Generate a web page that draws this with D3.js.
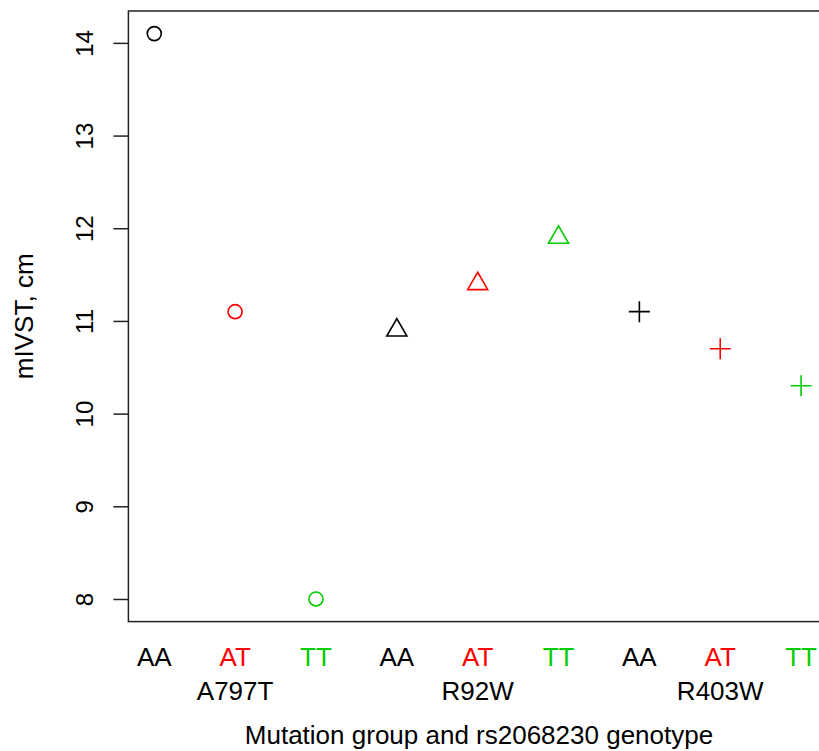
<!DOCTYPE html>
<html>
<head>
<meta charset="utf-8">
<script src="https://cdn.jsdelivr.net/npm/d3@7"></script>
<style>
  body { margin: 0; background: #fff; }
  text { font-family: "Liberation Sans", Arial, sans-serif; }
</style>
</head>
<body>
<svg id="chart" width="819" height="751"></svg>
<script>
"use strict";

// data
const groups = ["A797T", "R92W", "R403W"];
const genotypes = ["AA", "AT", "TT"];
const a797tValues = [14.1, 11.1, 8.0];
const r92wValues = [10.9, 11.4, 11.9];
const r403wValues = [11.1, 10.7, 10.3];
const yTicks = [8, 9, 10, 11, 12, 13, 14];

const genoColors = ["#000000", "#FF0000", "#00CD00"];
const groupShapes = ["circle", "triangle", "plus"];

const points = [];
[a797tValues, r92wValues, r403wValues].forEach((vals, g) => {
  vals.forEach((v, k) => {
    points.push({idx: g * 3 + k + 1, value: v, group: g, geno: k});
  });
});

// plot box (right edge falls outside the window)
let box = {left: 128.4, top: 11, bottom: 621.6};

let xScale = d3.scaleLinear()
  .domain([0.68, 9.32])
  .range([box.left, box.left + 8.64 * 80.85]);

let yScale = d3.scaleLinear()
  .domain([7.756, 14.344])
  .range([box.bottom, box.top]);

const svg = d3.select("#chart");

// plus symbol (R pch 3)
const plusType = {
  draw(ctx, size) {
    const r = Math.sqrt(size) / 2;
    ctx.moveTo(-r, 0); ctx.lineTo(r, 0);
    ctx.moveTo(0, -r); ctx.lineTo(0, r);
  }
};
function symbolFor(shape) {
  if (shape === "circle") return d3.symbol(d3.symbolCircle, 154);
  if (shape === "triangle") return d3.symbol(d3.symbolTriangle, 175);
  return d3.symbol(plusType, 441);
}

// box
svg.append("rect")
  .attr("x", box.left)
  .attr("y", box.top)
  .attr("width", xScale.range()[1] - box.left)
  .attr("height", box.bottom - box.top)
  .attr("fill", "none")
  .attr("stroke", "#222")
  .attr("stroke-width", 1.5);

// y axis, labels turned like R's las=0
const yAxis = svg.append("g")
  .attr("transform", `translate(${box.left},0)`)
  .call(d3.axisLeft(yScale).tickValues(yTicks).tickSize(15).tickFormat(d3.format("d")));
yAxis.select(".domain").remove();
yAxis.selectAll("line").attr("stroke", "#222").attr("stroke-width", 1.5);
yAxis.selectAll(".tick text")
  .attr("font-size", 24)
  .attr("fill", "#000")
  .attr("font-family", "Liberation Sans, Arial, sans-serif")
  .attr("x", null)
  .attr("dy", null)
  .attr("text-anchor", "middle")
  .attr("transform", "translate(-35,0) rotate(-90)");

// x genotype labels
svg.append("g").selectAll("text")
  .data(points)
  .join("text")
    .attr("x", d => xScale(d.idx))
    .attr("y", 665.5)
    .attr("text-anchor", "middle")
    .attr("font-size", 26)
    .attr("fill", d => genoColors[d.geno])
    .text(d => genotypes[d.geno]);

// group labels
svg.append("g").selectAll("text")
  .data(groups)
  .join("text")
    .attr("x", (d, i) => xScale(i * 3 + 2))
    .attr("y", 700)
    .attr("text-anchor", "middle")
    .attr("font-size", 26)
    .attr("fill", "#000")
    .text(d => d);

// axis titles
svg.append("text")
  .attr("x", 479)
  .attr("y", 743.7)
  .attr("text-anchor", "middle")
  .attr("font-size", 26)
  .text("Mutation group and rs2068230 genotype");

svg.append("text")
  .attr("transform", `translate(33, ${(box.top + box.bottom) / 2}) rotate(-90)`)
  .attr("text-anchor", "middle")
  .attr("font-size", 26)
  .text("mIVST, cm");

// points
svg.append("g").selectAll("path")
  .data(points)
  .join("path")
    .attr("transform", d => `translate(${xScale(d.idx)},${yScale(d.value)})`)
    .attr("d", d => symbolFor(groupShapes[d.group])())
    .attr("fill", "none")
    .attr("stroke", d => genoColors[d.geno])
    .attr("stroke-width", 1.6);
</script>
</body>
</html>
